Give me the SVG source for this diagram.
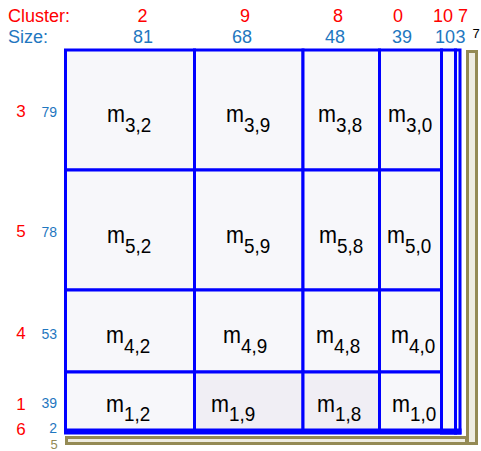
<svg xmlns="http://www.w3.org/2000/svg" width="481" height="451" viewBox="0 0 481 451">
<style>
.cell{fill:#F7F7FA;stroke:#0000FF;stroke-width:3}
.cell2{fill:#F0EEF4;stroke:#0000FF;stroke-width:3}
.olive{fill:#EEECE1;stroke:#948A54;stroke-width:3}
.m{font-family:"Liberation Sans",Arial,sans-serif;font-size:24px;fill:#000}
.sub{font-size:21px}
.hr{font-family:"Liberation Sans",Arial,sans-serif;font-size:18px;fill:#FF0000}
.hb{font-family:"Liberation Sans",Arial,sans-serif;font-size:18px;fill:#1F77C0}
.rr{font-family:"Liberation Sans",Arial,sans-serif;font-size:17px;fill:#FF0000;text-anchor:middle}
.rb{font-family:"Liberation Sans",Arial,sans-serif;font-size:14px;fill:#1F77C0;text-anchor:end}
.c{text-anchor:middle}
</style>
<rect width="481" height="451" fill="#FFFFFF"/>
<!-- headers -->
<text class="hr" x="8" y="22">Cluster:</text>
<text class="hb" x="8" y="43">Size:</text>
<text class="hr c" x="142.5" y="22">2</text>
<text class="hr c" x="245" y="22">9</text>
<text class="hr c" x="338" y="22">8</text>
<text class="hr c" x="398" y="22">0</text>
<text class="hr c" x="443" y="22">10</text>
<text class="hr c" x="463" y="22">7</text>
<text class="hb c" x="143" y="43">81</text>
<text class="hb c" x="242" y="43">68</text>
<text class="hb c" x="335" y="43">48</text>
<text class="hb c" x="402" y="43">39</text>
<text class="hb c" x="445" y="43">10</text>
<text class="hb c" x="460.5" y="43">3</text>
<text x="476" y="38" font-family="Liberation Sans,Arial,sans-serif" font-size="13" text-anchor="middle" fill="#000">7</text>
<!-- row labels -->
<text class="rr" x="21" y="117">3</text><text class="rb" x="57" y="117">79</text>
<text class="rr" x="21" y="237">5</text><text class="rb" x="57" y="237">78</text>
<text class="rr" x="21" y="339">4</text><text class="rb" x="57" y="339">53</text>
<text class="rr" x="21" y="410">1</text><text class="rb" x="57" y="408">39</text>
<text class="rr" x="21" y="435">6</text><text class="rb" x="57" y="433">2</text>
<text x="54" y="449" font-family="Liberation Sans,Arial,sans-serif" font-size="13" text-anchor="middle" fill="#948A54">5</text>
<!-- olive clusters -->
<g id="cluster5"><rect class="olive" x="66.5" y="437.5" width="400" height="6"/></g>
<g id="cluster7"><rect class="olive" x="467.5" y="51.5" width="9" height="392"/></g>
<!-- thin cells -->
<g id="col10"><rect class="cell" x="441.5" y="50" width="14" height="383"/></g>
<g id="col3"><rect class="cell" x="455.5" y="50" width="4.5" height="383"/></g>
<g id="row6"><rect class="cell" x="65.5" y="430" width="394.5" height="3"/></g>
<!-- row 3 -->
<g id="m32"><rect class="cell" x="65.5" y="50" width="129" height="120"/><text class="m" transform="translate(107,121.5) scale(0.9,1)">m<tspan class="sub" dy="10">3,2</tspan></text></g>
<g id="m39"><rect class="cell" x="194.5" y="50" width="108.5" height="120"/><text class="m" transform="translate(226,121.5) scale(0.9,1)">m<tspan class="sub" dy="10">3,9</tspan></text></g>
<g id="m38"><rect class="cell" x="303" y="50" width="76.5" height="120"/><text class="m" transform="translate(318,121.5) scale(0.9,1)">m<tspan class="sub" dy="10">3,8</tspan></text></g>
<g id="m30"><rect class="cell" x="379.5" y="50" width="62" height="120"/><text class="m" transform="translate(388,121.5) scale(0.9,1)">m<tspan class="sub" dy="10">3,0</tspan></text></g>
<!-- row 5 -->
<g id="m52"><rect class="cell" x="65.5" y="170" width="129" height="120"/><text class="m" transform="translate(107,243) scale(0.9,1)">m<tspan class="sub" dy="10">5,2</tspan></text></g>
<g id="m59"><rect class="cell" x="194.5" y="170" width="108.5" height="120"/><text class="m" transform="translate(226,243) scale(0.9,1)">m<tspan class="sub" dy="10">5,9</tspan></text></g>
<g id="m58"><rect class="cell" x="303" y="170" width="76.5" height="120"/><text class="m" transform="translate(319,243) scale(0.9,1)">m<tspan class="sub" dy="10">5,8</tspan></text></g>
<g id="m50"><rect class="cell" x="379.5" y="170" width="62" height="120"/><text class="m" transform="translate(387,243) scale(0.9,1)">m<tspan class="sub" dy="10">5,0</tspan></text></g>
<!-- row 4 -->
<g id="m42"><rect class="cell" x="65.5" y="290" width="129" height="82"/><text class="m" transform="translate(106,343) scale(0.9,1)">m<tspan class="sub" dy="10">4,2</tspan></text></g>
<g id="m49"><rect class="cell" x="194.5" y="290" width="108.5" height="82"/><text class="m" transform="translate(223,343) scale(0.9,1)">m<tspan class="sub" dy="10">4,9</tspan></text></g>
<g id="m48"><rect class="cell" x="303" y="290" width="76.5" height="82"/><text class="m" transform="translate(316,343) scale(0.9,1)">m<tspan class="sub" dy="10">4,8</tspan></text></g>
<g id="m40"><rect class="cell" x="379.5" y="290" width="62" height="82"/><text class="m" transform="translate(391,343) scale(0.9,1)">m<tspan class="sub" dy="10">4,0</tspan></text></g>
<!-- row 1 -->
<g id="m12"><rect class="cell" x="65.5" y="372" width="129" height="58"/><text class="m" transform="translate(106,412) scale(0.9,1)">m<tspan class="sub" dy="9">1,2</tspan></text></g>
<g id="m19"><rect class="cell2" x="194.5" y="372" width="108.5" height="58"/><text class="m" transform="translate(211,412) scale(0.9,1)">m<tspan class="sub" dy="9">1,9</tspan></text></g>
<g id="m18"><rect class="cell2" x="303" y="372" width="76.5" height="58"/><text class="m" transform="translate(317,412) scale(0.9,1)">m<tspan class="sub" dy="9">1,8</tspan></text></g>
<g id="m10"><rect class="cell" x="379.5" y="372" width="62" height="58"/><text class="m" transform="translate(392,412) scale(0.9,1)">m<tspan class="sub" dy="9">1,0</tspan></text></g>
</svg>
